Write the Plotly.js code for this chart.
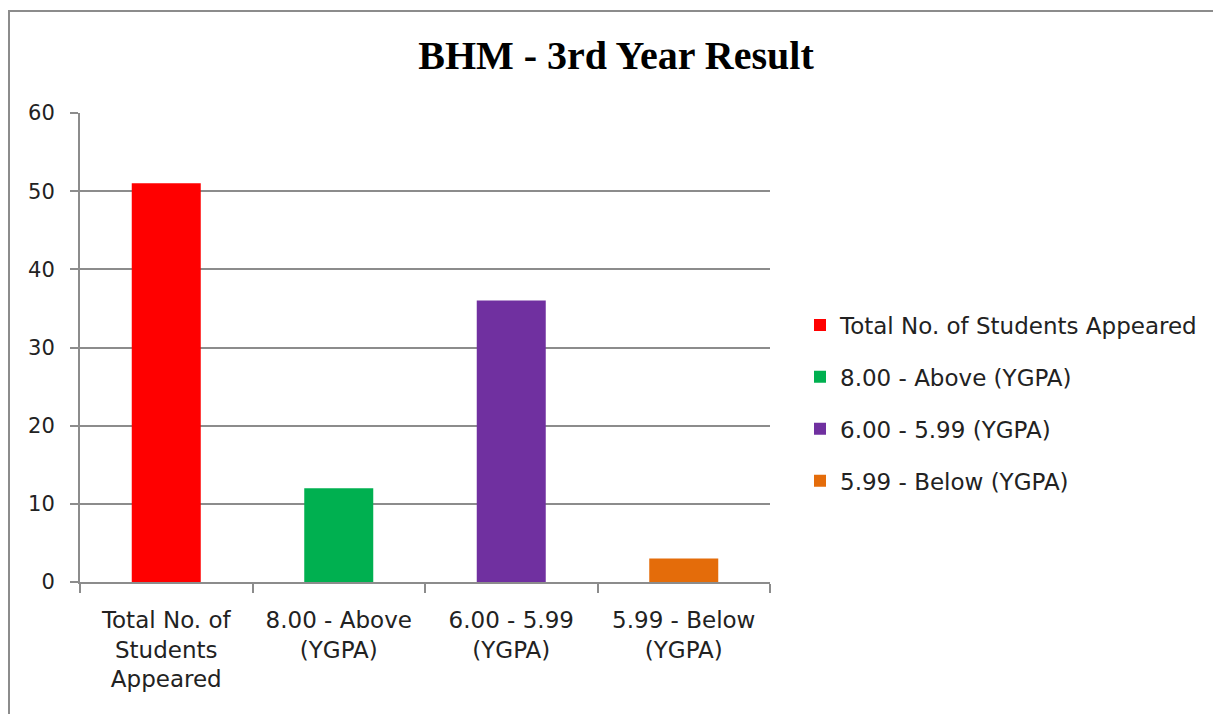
<!DOCTYPE html>
<html>
<head>
<meta charset="utf-8">
<script src="https://cdn.plot.ly/plotly-3.0.1.min.js"></script>
<style>
  html, body { margin: 0; padding: 0; background: #fff; }
  #chart { width: 1213px; height: 714px; }
  #frame { position: absolute; left: 8px; top: 10px; width: 1300px; height: 800px;
           border-left: 2px solid #8c8c8c; border-top: 2px solid #8c8c8c; pointer-events: none; }
</style>
</head>
<body>
<div id="chart"></div>
<div id="frame"></div>
<script>
const categories = [
  "Total No. of<br>Students<br>Appeared",
  "8.00 - Above<br>(YGPA)",
  "6.00 - 5.99<br>(YGPA)",
  "5.99 - Below<br>(YGPA)"
];
const seriesNames = [
  "Total No. of Students Appeared",
  "8.00 - Above (YGPA)",
  "6.00 - 5.99 (YGPA)",
  "5.99 - Below (YGPA)"
];
const values = [51, 12, 36, 3];
const colors = ["#FF0000", "#00B050", "#7030A0", "#E46C0A"];
const yTicks = [0, 10, 20, 30, 40, 50, 60];

const font = "DejaVu Sans, Open Sans, sans-serif";

const traces = seriesNames.map((name, i) => ({
  type: "bar",
  name: name,
  x: [categories[i]],
  y: [values[i]],
  width: 0.4,
  marker: { color: colors[i] },
  legendgroup: "g" + i,
  hoverinfo: "x+y"
}));

const layout = {
  width: 1213,
  height: 714,
  margin: { l: 80, r: 443, t: 113, b: 132 },
  paper_bgcolor: "#ffffff",
  plot_bgcolor: "#ffffff",
  barmode: "overlay",
  title: {
    text: "<b>BHM - 3rd Year Result</b>",
    font: { family: "Liberation Serif, Times New Roman, serif", size: 40, color: "#000" },
    x: 616 / 1213, xref: "container", xanchor: "center",
    y: 1 - 55 / 714, yref: "container", yanchor: "middle"
  },
  xaxis: {
    type: "category",
    categoryorder: "array",
    categoryarray: categories,
    showline: true, linecolor: "#8c8c8c", linewidth: 2,
    ticks: "outside", tickson: "boundaries", ticklen: 9, tickcolor: "#8c8c8c", tickwidth: 2,
    tickfont: { family: font, size: 23, color: "#222" },
    ticklabelstandoff: 16,
    showgrid: false, zeroline: false,
    fixedrange: true
  },
  yaxis: {
    range: [0, 60],
    tickvals: yTicks,
    ticktext: yTicks.map(String),
    showline: true, linecolor: "#8c8c8c", linewidth: 2,
    ticks: "outside", ticklen: 8, tickcolor: "#8c8c8c", tickwidth: 2,
    showgrid: true, gridcolor: "#8c8c8c", gridwidth: 2,
    zeroline: false,
    tickfont: { family: font, size: 21, color: "#222" },
    ticklabelstandoff: 11,
    fixedrange: true
  },
  showlegend: true,
  legend: {
    x: 800 / 1213, xref: "container",
    y: 1 - 403 / 714, yref: "container",
    xanchor: "left", yanchor: "middle",
    traceorder: "grouped",
    tracegroupgap: 19,
    font: { family: font, size: 23, color: "#222" },
    itemwidth: 30
  }
};

Plotly.newPlot("chart", traces, layout, { displayModeBar: false, staticPlot: true });
</script>
</body>
</html>
